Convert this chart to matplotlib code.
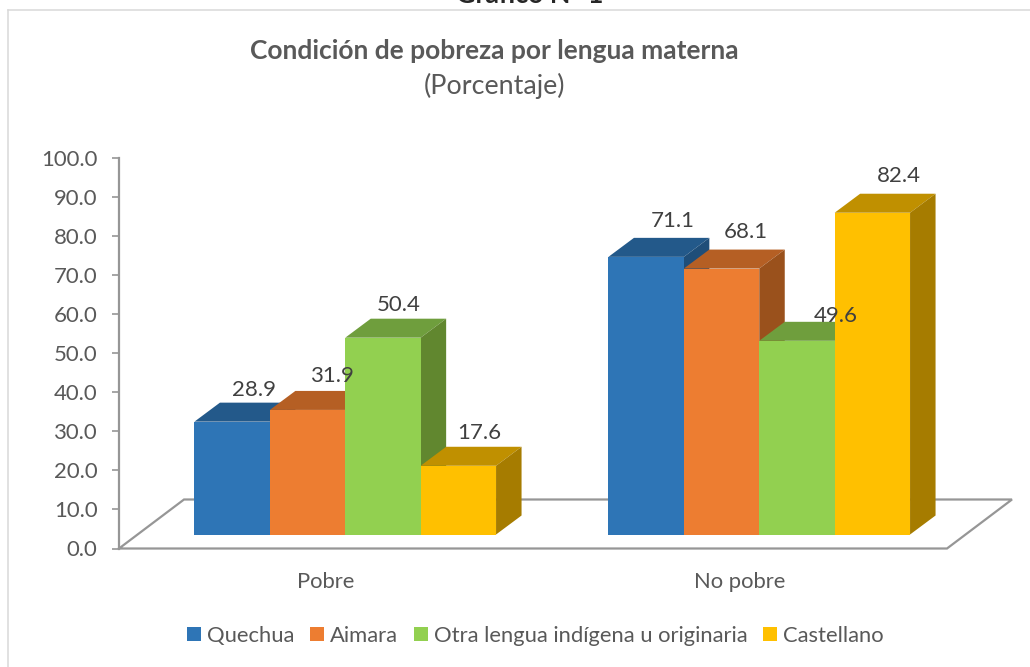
import matplotlib
matplotlib.use("Agg")
import matplotlib.pyplot as plt
from matplotlib.lines import Line2D
from matplotlib.patches import Patch
from matplotlib.transforms import offset_copy

categories = ["Pobre", "No pobre"]
series_names = ["Quechua", "Aimara", "Otra lengua indígena u originaria", "Castellano"]
quechua = [28.9, 71.1]
aimara = [31.9, 68.1]
otra = [50.4, 49.6]
castellano = [17.6, 82.4]
all_series = [quechua, aimara, otra, castellano]
y_ticks = [0, 10, 20, 30, 40, 50, 60, 70, 80, 90, 100]

front_colors = ["#2E75B6", "#ED7D31", "#92D050", "#FFC000"]
top_colors = ["#23598A", "#B55F24", "#6F9E3D", "#C09000"]
side_colors = ["#1F4E79", "#9A511C", "#61872F", "#A67C00"]

# nudges of the data labels, in pixels, relative to the bar's front-top centre
label_dx = [[22, 24.5, 16, 21], [26.5, 24.5, 38.5, 26.5]]
label_dy = [[32, 34, 33, 33], [36, 37, 25, 37]]

W, H = 1030, 667
plt.rcParams["font.family"] = ["Lato", "DejaVu Sans"]
fig = plt.figure(figsize=(W / 100, H / 100), dpi=100)
fig.patch.set_facecolor("white")

# outer frame
for xs, ys in [((8, 8), (667, 10)), ((8, 1030), (10, 10))]:
    fig.add_artist(Line2D([x / W for x in xs], [1 - y / H for y in ys],
                          color="#D9D9D9", lw=1.1))

L, R, T, B = 119, 947, 158, 548.5
ax = fig.add_axes([L / W, 1 - B / H, (R - L) / W, (B - T) / H])
ax.set_xlim(-0.5, 1.5)
ax.set_ylim(0, 100)
ax.patch.set_alpha(0)

px_x = 2.0 / (R - L)          # data units per pixel, horizontal
px_y = 100.0 / (B - T)        # data units per pixel, vertical

# floor
fx, fy = 65 * px_x, 49 * px_y
ax.plot([-0.5, -0.5 + fx, 1.5 + fx, 1.5, -0.5], [0, fy, fy, 0, 0],
        color="#969696", lw=1.6, clip_on=False, zorder=1, solid_joinstyle="miter")

# 3D columns
bar_w = 75.4 * px_x
shift = 19.25 * px_x
base = 14 * px_y
dx, dy = 25.5 * px_x, 19 * px_y
z = 3
for g in range(len(categories)):
    left = g + shift - 2 * bar_w
    for s, values in enumerate(all_series):
        v = values[g]
        x0 = left + s * bar_w
        x1 = x0 + bar_w
        top = base + v
        ax.fill([x0, x1, x1 + dx, x0 + dx], [top, top, top + dy, top + dy],
                color=top_colors[s], lw=0, clip_on=False, zorder=z)
        ax.fill([x1, x1 + dx, x1 + dx, x1], [base, base + dy, top + dy, top],
                color=side_colors[s], lw=0, clip_on=False, zorder=z)
        ax.bar(x0, v, width=bar_w, bottom=base, align="edge", color=front_colors[s],
               lw=0, clip_on=False, zorder=z)
        z += 1
        trans = offset_copy(ax.transData, fig=fig, units="dots",
                            x=label_dx[g][s], y=label_dy[g][s])
        ax.text(x0 + bar_w / 2, top, f"{v:.1f}", transform=trans, ha="center", va="center",
                fontsize=16, color="#404040", zorder=50, clip_on=False)

# axes
for side in ("top", "right", "bottom"):
    ax.spines[side].set_visible(False)
ax.spines["left"].set_color("#969696")
ax.spines["left"].set_linewidth(1.6)
ax.set_yticks(y_ticks)
ax.set_yticklabels([f"{t:.1f}" for t in y_ticks])
ax.set_xticks(range(len(categories)))
ax.set_xticklabels(categories)
ax.tick_params(axis="y", length=5, width=1.2, color="#969696", labelcolor="#595959",
               labelsize=15.9, pad=10.5)
ax.tick_params(axis="x", length=0, labelcolor="#595959", labelsize=15.8, pad=17)

# titles
fig.text(530 / W, 1 - 3 / H, "Gráfico N° 1", ha="center", va="baseline",
         fontsize=19.3, fontweight="bold", color="#262626")
fig.text(494 / W, 1 - 51 / H, "Condición de pobreza por lengua materna", ha="center", va="center",
         fontsize=19, fontweight="bold", color="#595959")
fig.text(494.5 / W, 1 - 86 / H, "(Porcentaje)", ha="center", va="center",
         fontsize=19.4, color="#595959")

# legend
handles = [Patch(facecolor=c, edgecolor="none", label=n) for c, n in zip(front_colors, series_names)]
fig.legend(handles=handles, ncol=4, loc="center", bbox_to_anchor=(535.5 / W, 1 - 636 / H),
           frameon=False, fontsize=15.85, handlelength=0.63, handleheight=0.63,
           handletextpad=0.27, columnspacing=0.72, labelcolor="#595959",
           borderpad=0, borderaxespad=0)

fig.savefig("out.png", dpi=100)
